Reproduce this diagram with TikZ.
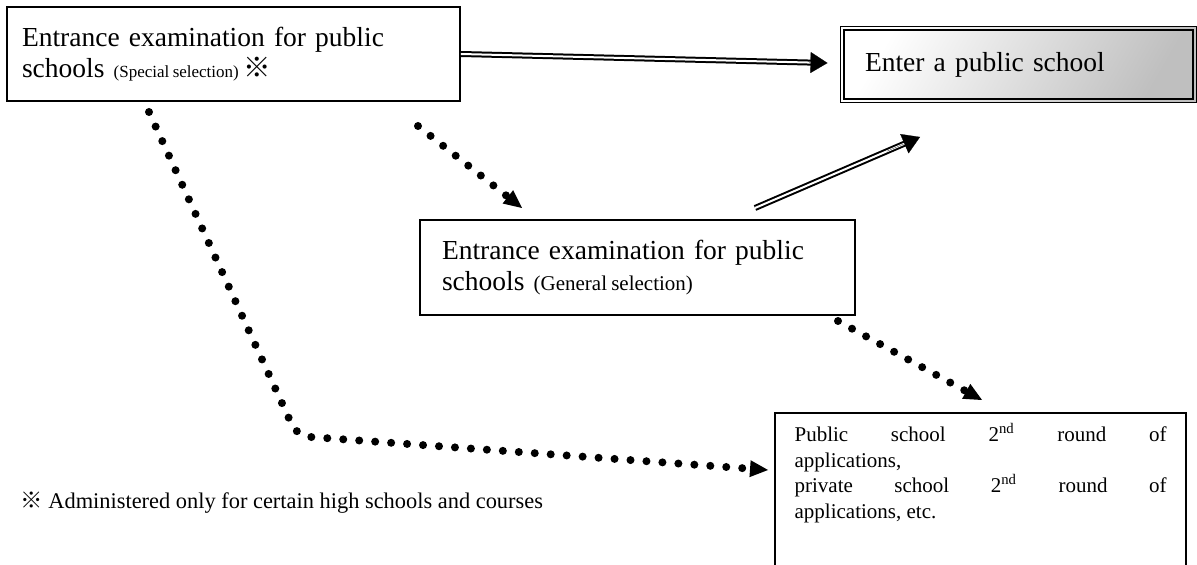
\documentclass[tikz,border=0pt]{standalone}
\usepackage{fontspec}
\setmainfont{Liberation Serif}
\newfontfamily\cjkfont{Noto Sans CJK JP}
\usetikzlibrary{arrows.meta,calc}
\begin{document}
\begin{tikzpicture}[x=0.5pt,y=-0.5pt,
  box/.style={draw=black, line width=0.8pt, rectangle, inner sep=0pt},
  dbl/.style={draw=black, line width=1pt, double=white, double distance=1pt},
  tipa/.style={line width=0.1pt, -{Triangle[length=8.5pt,width=10.5pt]}},
  dots/.style={line width=4pt, line cap=round, dash pattern=on 0pt off 8pt},
  dtip/.style={-{Triangle[length=9pt,width=8.5pt,line width=0pt]}},
  bigf/.style={font=\fontsize{13.75}{15.5}\selectfont},
]
\useasboundingbox (0,0) rectangle (1197,565);

% boxes
\node[box, bigf, minimum width=226.5pt, minimum height=47pt, text width=211.5pt, align=left]
  (b1) at (233.5,54) {Entrance examination for public\\schools \hbox{\fontsize{8.5}{9}\selectfont\spaceskip=0.2em (Special selection)}\,{\cjkfont ※}};

\node[box, line width=0.5pt, bigf, minimum width=178pt, minimum height=38pt, text width=153pt, align=left,
  top color=white, bottom color=black!25, shading angle=60]
  (b2) at (1018,65) {Enter a public school};
\draw[line width=1pt] ([shift={(4,4)}]b2.north west) rectangle ([shift={(-4,-4)}]b2.south east);

\node[box, bigf, minimum width=217.5pt, minimum height=47.5pt, text width=195.5pt, align=left]
  (b3) at (637.5,267.5) {Entrance examination for public\\schools \hbox{\fontsize{10.5}{12}\selectfont\spaceskip=0.2em (General selection)}};

\node[box, minimum width=205.5pt, minimum height=93.5pt] (b4) at (980.5,506.5) {};
\node[anchor=north west, inner sep=0pt, text width=186pt, align=justify, font=\fontsize{10.5}{12.8}\selectfont]
  (b4t) at ([shift={(20,11)}]b4.north west)
  {Public school 2\textsuperscript{nd} round of\linebreak applications,\\ private school 2\textsuperscript{nd} round of\linebreak applications, etc.};

\node[anchor=west, inner sep=0pt, font=\fontsize{11.2}{13}\selectfont] (note) at (20,503)
  {{\cjkfont ※} Administered only for certain high schools and courses};

% connector end points
\coordinate (t1) at ($(b2.west)+(-12,-2)$);
\coordinate (s2) at (755,208);
\coordinate (t2) at (920,137);
\coordinate (s3) at (149,112);
\coordinate (k3) at (297,436);
\coordinate (t3) at (768,470);
\coordinate (s4) at (418,126);
\coordinate (t4) at (522,208);
\coordinate (s5) at (838,321);
\coordinate (t5) at (982,400);

% double arrows
\draw[dbl, shorten >=6pt] (b1.east) -- (t1);
\draw[tipa] ($(b1.east)!0.95!(t1)$) -- (t1);
\draw[dbl, shorten >=6pt] (s2) -- (t2);
\draw[tipa] ($(s2)!0.8!(t2)$) -- (t2);

% dotted arrows
\draw[dots, dtip] (s4) -- (t4);
\draw[dots, dtip] (s5) -- (t5);
\draw[dots, dtip, rounded corners=6pt] (s3) -- (k3) -- (t3);
\end{tikzpicture}
\end{document}
